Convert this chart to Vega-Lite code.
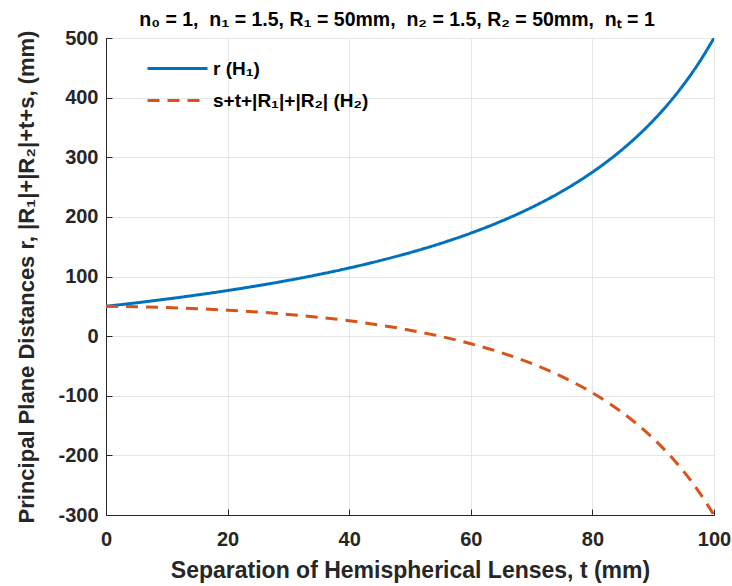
{
  "$schema": "https://vega.github.io/schema/vega-lite/v6.json",
  "autosize": {"type": "none"},
  "width": 608,
  "height": 477,
  "padding": {"left": 106, "top": 38, "right": 18, "bottom": 71},
  "background": "white",
  "title": {
    "text": "n₀ = 1,\u00a0 n₁ = 1.5, R₁ = 50mm,\u00a0 n₂ = 1.5, R₂ = 50mm,\u00a0 nₜ = 1",
    "font": "Liberation Sans",
    "fontSize": 19.5,
    "fontWeight": "bold",
    "color": "#000000",
    "baseline": "alphabetic",
    "anchor": "middle",
    "frame": "group",
    "offset": 4,
    "dy": 21,
    "dx": -13
  },
  "config": {
    "view": {"stroke": "#262626", "strokeWidth": 1},
    "font": "Liberation Sans",
    "axis": {
      "labelFont": "Liberation Sans",
      "labelFontSize": 20,
      "labelFontWeight": "bold",
      "labelColor": "#262626",
      "labelFlush": false,
      "titleFont": "Liberation Sans",
      "titleFontWeight": "bold",
      "titleColor": "#262626",
      "domainColor": "#262626",
      "tickColor": "#262626",
      "gridColor": "#e6e6e6",
      "gridOpacity": 1,
      "tickSize": -6,
      "labelExpr": "replace(datum.label, '−', '-')"
    }
  },
  "data": {
    "values": [
      {"t": 0, "v": 50, "series": "r (H₁)"},
      {"t": 5, "v": 55.844, "series": "r (H₁)"},
      {"t": 10, "v": 62.162, "series": "r (H₁)"},
      {"t": 15, "v": 69.014, "series": "r (H₁)"},
      {"t": 20, "v": 76.471, "series": "r (H₁)"},
      {"t": 25, "v": 84.615, "series": "r (H₁)"},
      {"t": 30, "v": 93.548, "series": "r (H₁)"},
      {"t": 35, "v": 103.39, "series": "r (H₁)"},
      {"t": 40, "v": 114.286, "series": "r (H₁)"},
      {"t": 45, "v": 126.415, "series": "r (H₁)"},
      {"t": 50, "v": 140, "series": "r (H₁)"},
      {"t": 55, "v": 155.319, "series": "r (H₁)"},
      {"t": 60, "v": 172.727, "series": "r (H₁)"},
      {"t": 65, "v": 192.683, "series": "r (H₁)"},
      {"t": 70, "v": 215.789, "series": "r (H₁)"},
      {"t": 75, "v": 242.857, "series": "r (H₁)"},
      {"t": 80, "v": 275, "series": "r (H₁)"},
      {"t": 82.5, "v": 293.443, "series": "r (H₁)"},
      {"t": 85, "v": 313.793, "series": "r (H₁)"},
      {"t": 87.5, "v": 336.364, "series": "r (H₁)"},
      {"t": 90, "v": 361.538, "series": "r (H₁)"},
      {"t": 92.5, "v": 389.796, "series": "r (H₁)"},
      {"t": 95, "v": 421.739, "series": "r (H₁)"},
      {"t": 97.5, "v": 458.14, "series": "r (H₁)"},
      {"t": 100, "v": 500, "series": "r (H₁)"},
      {"t": 0, "v": 50, "series": "s+t+|R₁|+|R₂| (H₂)"},
      {"t": 5, "v": 49.156, "series": "s+t+|R₁|+|R₂| (H₂)"},
      {"t": 10, "v": 47.838, "series": "s+t+|R₁|+|R₂| (H₂)"},
      {"t": 15, "v": 45.986, "series": "s+t+|R₁|+|R₂| (H₂)"},
      {"t": 20, "v": 43.529, "series": "s+t+|R₁|+|R₂| (H₂)"},
      {"t": 25, "v": 40.385, "series": "s+t+|R₁|+|R₂| (H₂)"},
      {"t": 30, "v": 36.452, "series": "s+t+|R₁|+|R₂| (H₂)"},
      {"t": 35, "v": 31.61, "series": "s+t+|R₁|+|R₂| (H₂)"},
      {"t": 40, "v": 25.714, "series": "s+t+|R₁|+|R₂| (H₂)"},
      {"t": 45, "v": 18.585, "series": "s+t+|R₁|+|R₂| (H₂)"},
      {"t": 50, "v": 10, "series": "s+t+|R₁|+|R₂| (H₂)"},
      {"t": 55, "v": -0.319, "series": "s+t+|R₁|+|R₂| (H₂)"},
      {"t": 60, "v": -12.727, "series": "s+t+|R₁|+|R₂| (H₂)"},
      {"t": 65, "v": -27.683, "series": "s+t+|R₁|+|R₂| (H₂)"},
      {"t": 70, "v": -45.789, "series": "s+t+|R₁|+|R₂| (H₂)"},
      {"t": 75, "v": -67.857, "series": "s+t+|R₁|+|R₂| (H₂)"},
      {"t": 80, "v": -95, "series": "s+t+|R₁|+|R₂| (H₂)"},
      {"t": 82.5, "v": -110.943, "series": "s+t+|R₁|+|R₂| (H₂)"},
      {"t": 85, "v": -128.793, "series": "s+t+|R₁|+|R₂| (H₂)"},
      {"t": 87.5, "v": -148.864, "series": "s+t+|R₁|+|R₂| (H₂)"},
      {"t": 90, "v": -171.538, "series": "s+t+|R₁|+|R₂| (H₂)"},
      {"t": 92.5, "v": -197.296, "series": "s+t+|R₁|+|R₂| (H₂)"},
      {"t": 95, "v": -226.739, "series": "s+t+|R₁|+|R₂| (H₂)"},
      {"t": 97.5, "v": -260.64, "series": "s+t+|R₁|+|R₂| (H₂)"},
      {"t": 100, "v": -300, "series": "s+t+|R₁|+|R₂| (H₂)"}
    ]
  },
  "mark": {"type": "line", "strokeWidth": 3, "interpolate": "monotone", "clip": true},
  "encoding": {
    "x": {
      "field": "t",
      "type": "quantitative",
      "scale": {"domain": [0, 100], "nice": false},
      "axis": {
        "title": "Separation of Hemispherical Lenses, t (mm)",
        "titleFontSize": 23,
        "values": [0, 20, 40, 60, 80, 100],
        "labelPadding": 20,
        "titlePadding": 10
      }
    },
    "y": {
      "field": "v",
      "type": "quantitative",
      "scale": {"domain": [-300, 500], "nice": false},
      "axis": {
        "title": "Principal Plane Distances r, |R₁|+|R₂|+t+s, (mm)",
        "titleFontSize": 22,
        "values": [-300, -200, -100, 0, 100, 200, 300, 400, 500],
        "labelPadding": 14,
        "titlePadding": 19
      }
    },
    "color": {
      "field": "series",
      "type": "nominal",
      "sort": ["r (H₁)", "s+t+|R₁|+|R₂| (H₂)"],
      "scale": {"domain": ["r (H₁)", "s+t+|R₁|+|R₂| (H₂)"], "range": ["#0072BD", "#D95319"]},
      "legend": {
        "title": null,
        "orient": "none",
        "legendX": 54,
        "legendY": 13,
        "symbolType": "M-1.875,0H1.875",
        "symbolSize": 1024,
        "symbolStrokeWidth": 3,
        "symbolFillColor": "transparent",
        "labelFont": "Liberation Sans",
        "labelFontSize": 19,
        "labelFontWeight": "bold",
        "labelColor": "#000000",
        "labelOffset": 18,
        "rowPadding": 4,
        "labelLimit": 400
      }
    },
    "strokeDash": {
      "field": "series",
      "type": "nominal",
      "sort": ["r (H₁)", "s+t+|R₁|+|R₂| (H₂)"],
      "scale": {"domain": ["r (H₁)", "s+t+|R₁|+|R₂| (H₂)"], "range": [[1, 0], [12, 8]]},
      "legend": null
    }
  }
}
